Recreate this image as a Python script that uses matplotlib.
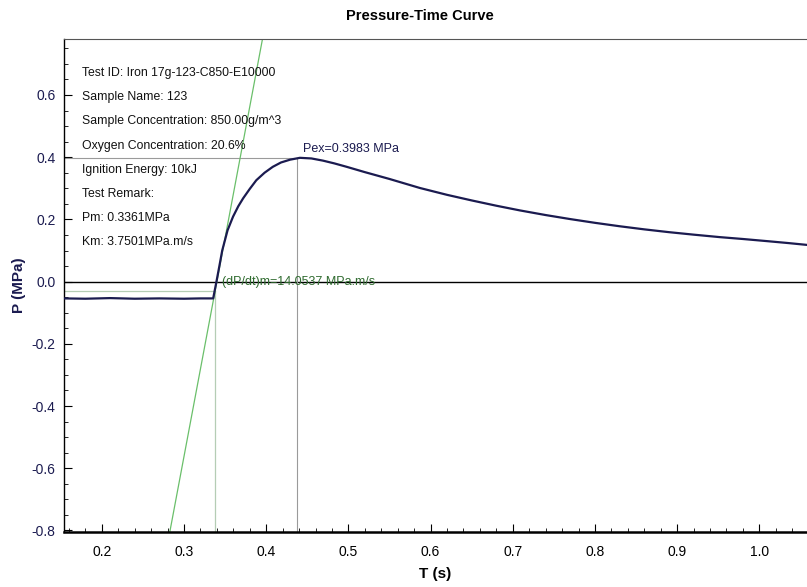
"""
Curva presion-tiempo de un ensayo de explosion de polvo
"""

import matplotlib.pyplot as plt
from matplotlib.ticker import MultipleLocator

# datos
t = [0.154, 0.18, 0.21, 0.24, 0.27, 0.30, 0.32, 0.3355, 0.3395, 0.3436,
     0.3465, 0.353, 0.3597, 0.366, 0.372, 0.380, 0.388, 0.398, 0.408, 0.418,
     0.429, 0.441, 0.455, 0.469, 0.483, 0.498, 0.52, 0.55, 0.587, 0.62,
     0.65, 0.68, 0.7085, 0.74, 0.77, 0.80, 0.83, 0.86, 0.89, 0.92,
     0.952, 0.98, 1.01, 1.035, 1.058]
p = [-0.054, -0.055, -0.053, -0.055, -0.054, -0.055, -0.054, -0.054, 0.0, 0.058,
     0.100, 0.165, 0.209, 0.242, 0.268, 0.298, 0.326, 0.350, 0.369, 0.383,
     0.392, 0.398, 0.396, 0.389, 0.380, 0.369, 0.352, 0.330, 0.301, 0.279,
     0.261, 0.244, 0.229, 0.214, 0.201, 0.189, 0.178, 0.168, 0.159, 0.151,
     0.143, 0.137, 0.130, 0.124, 0.118]

pex = 0.3983
t_pex = 0.437
t_ini = 0.3375
p_ini = -0.03
dpdt = 14.0537
t_tan = 0.340  # punto donde la tangente corta P=0

info = ["Test ID: Iron 17g-123-C850-E10000",
        "Sample Name: 123",
        "Sample Concentration: 850.00g/m^3",
        "Oxygen Concentration: 20.6%",
        "Ignition Energy: 10kJ",
        "Test Remark:",
        "Pm: 0.3361MPa",
        "Km: 3.7501MPa.m/s"]

xlim = (0.154, 1.058)
ylim = (-0.805, 0.78)


def main():
    plt.rcParams['font.family'] = ['Liberation Sans Narrow', 'Liberation Sans', 'DejaVu Sans']
    navy = '#1b1b50'

    fig = plt.figure(figsize=(8.07, 5.87), dpi=100)
    ax = fig.add_axes([64 / 807, 55 / 587, 1 - 64 / 807, 493 / 587])

    # lineas auxiliares
    ax.axhline(0, color='black', lw=1.0, zorder=2)
    ax.plot([xlim[0], t_pex], [pex, pex], color='#9a9a9a', lw=0.8)
    ax.plot([t_pex, t_pex], [ylim[0], pex], color='#9a9a9a', lw=0.8)
    ax.plot([xlim[0], t_ini], [p_ini, p_ini], color='#b5cdb5', lw=0.9)
    ax.plot([t_ini, t_ini], [ylim[0], p_ini], color='#b5cdb5', lw=0.9)
    tt = [t_tan + (ylim[0]) / dpdt, t_tan + (ylim[1]) / dpdt]
    ax.plot(tt, list(ylim), color='#6abf6a', lw=0.9)

    # curva
    ax.plot(t, p, color=navy, lw=1.6, zorder=3)

    ax.text(0.445, pex + 0.008, "Pex=0.3983 MPa", color=navy, fontsize=9,
            ha='left', va='bottom')
    ax.text(0.346, 0.0, "(dP/dt)m=14.0537 MPa.m/s", color='#2f6b2f', fontsize=9,
            ha='left', va='center')

    for i, s in enumerate(info):
        fig.text(82 / 807, 1 - (73 + 24.2 * i) / 587, s, fontsize=8.8,
                 ha='left', va='center', color='#111111')

    ax.set_xlim(xlim)
    ax.set_ylim(ylim)
    ax.xaxis.set_major_locator(MultipleLocator(0.1))
    ax.xaxis.set_minor_locator(MultipleLocator(0.02))
    ax.yaxis.set_major_locator(MultipleLocator(0.2))
    ax.yaxis.set_minor_locator(MultipleLocator(0.05))
    ax.tick_params(which='both', direction='in', top=False, right=False)
    ax.tick_params(which='major', length=6, width=0.8)
    ax.tick_params(which='minor', length=3, width=0.6)
    ax.tick_params(axis='x', labelsize=10, pad=9, labelcolor='black')
    ax.tick_params(axis='y', labelsize=10, pad=6, labelcolor=navy)
    ax.set_xticks([0.2, 0.3, 0.4, 0.5, 0.6, 0.7, 0.8, 0.9, 1.0])
    ax.set_xticklabels(["0.2", "0.3", "0.4", "0.5", "0.6", "0.7", "0.8", "0.9", "1.0"])
    ax.set_yticks([-0.8, -0.6, -0.4, -0.2, 0.0, 0.2, 0.4, 0.6])
    ax.set_yticklabels(["-0.8", "-0.6", "-0.4", "-0.2", "0.0", "0.2", "0.4", "0.6"])

    ax.spines['right'].set_visible(False)
    ax.spines['top'].set_color('#555555')
    ax.spines['bottom'].set_linewidth(1.8)
    ax.spines['left'].set_linewidth(1.0)

    ax.set_xlabel("T (s)", fontsize=11, fontweight='bold', labelpad=6)
    ax.set_ylabel("P (MPa)", fontsize=11, fontweight='bold', color=navy, labelpad=4)
    fig.text(420 / 807, 1 - 16 / 587, "Pressure-Time Curve", fontsize=10.5,
             fontweight='bold', ha='center', va='center')

    fig.savefig("out.png", dpi=100)


if __name__ == "__main__":
    main()
